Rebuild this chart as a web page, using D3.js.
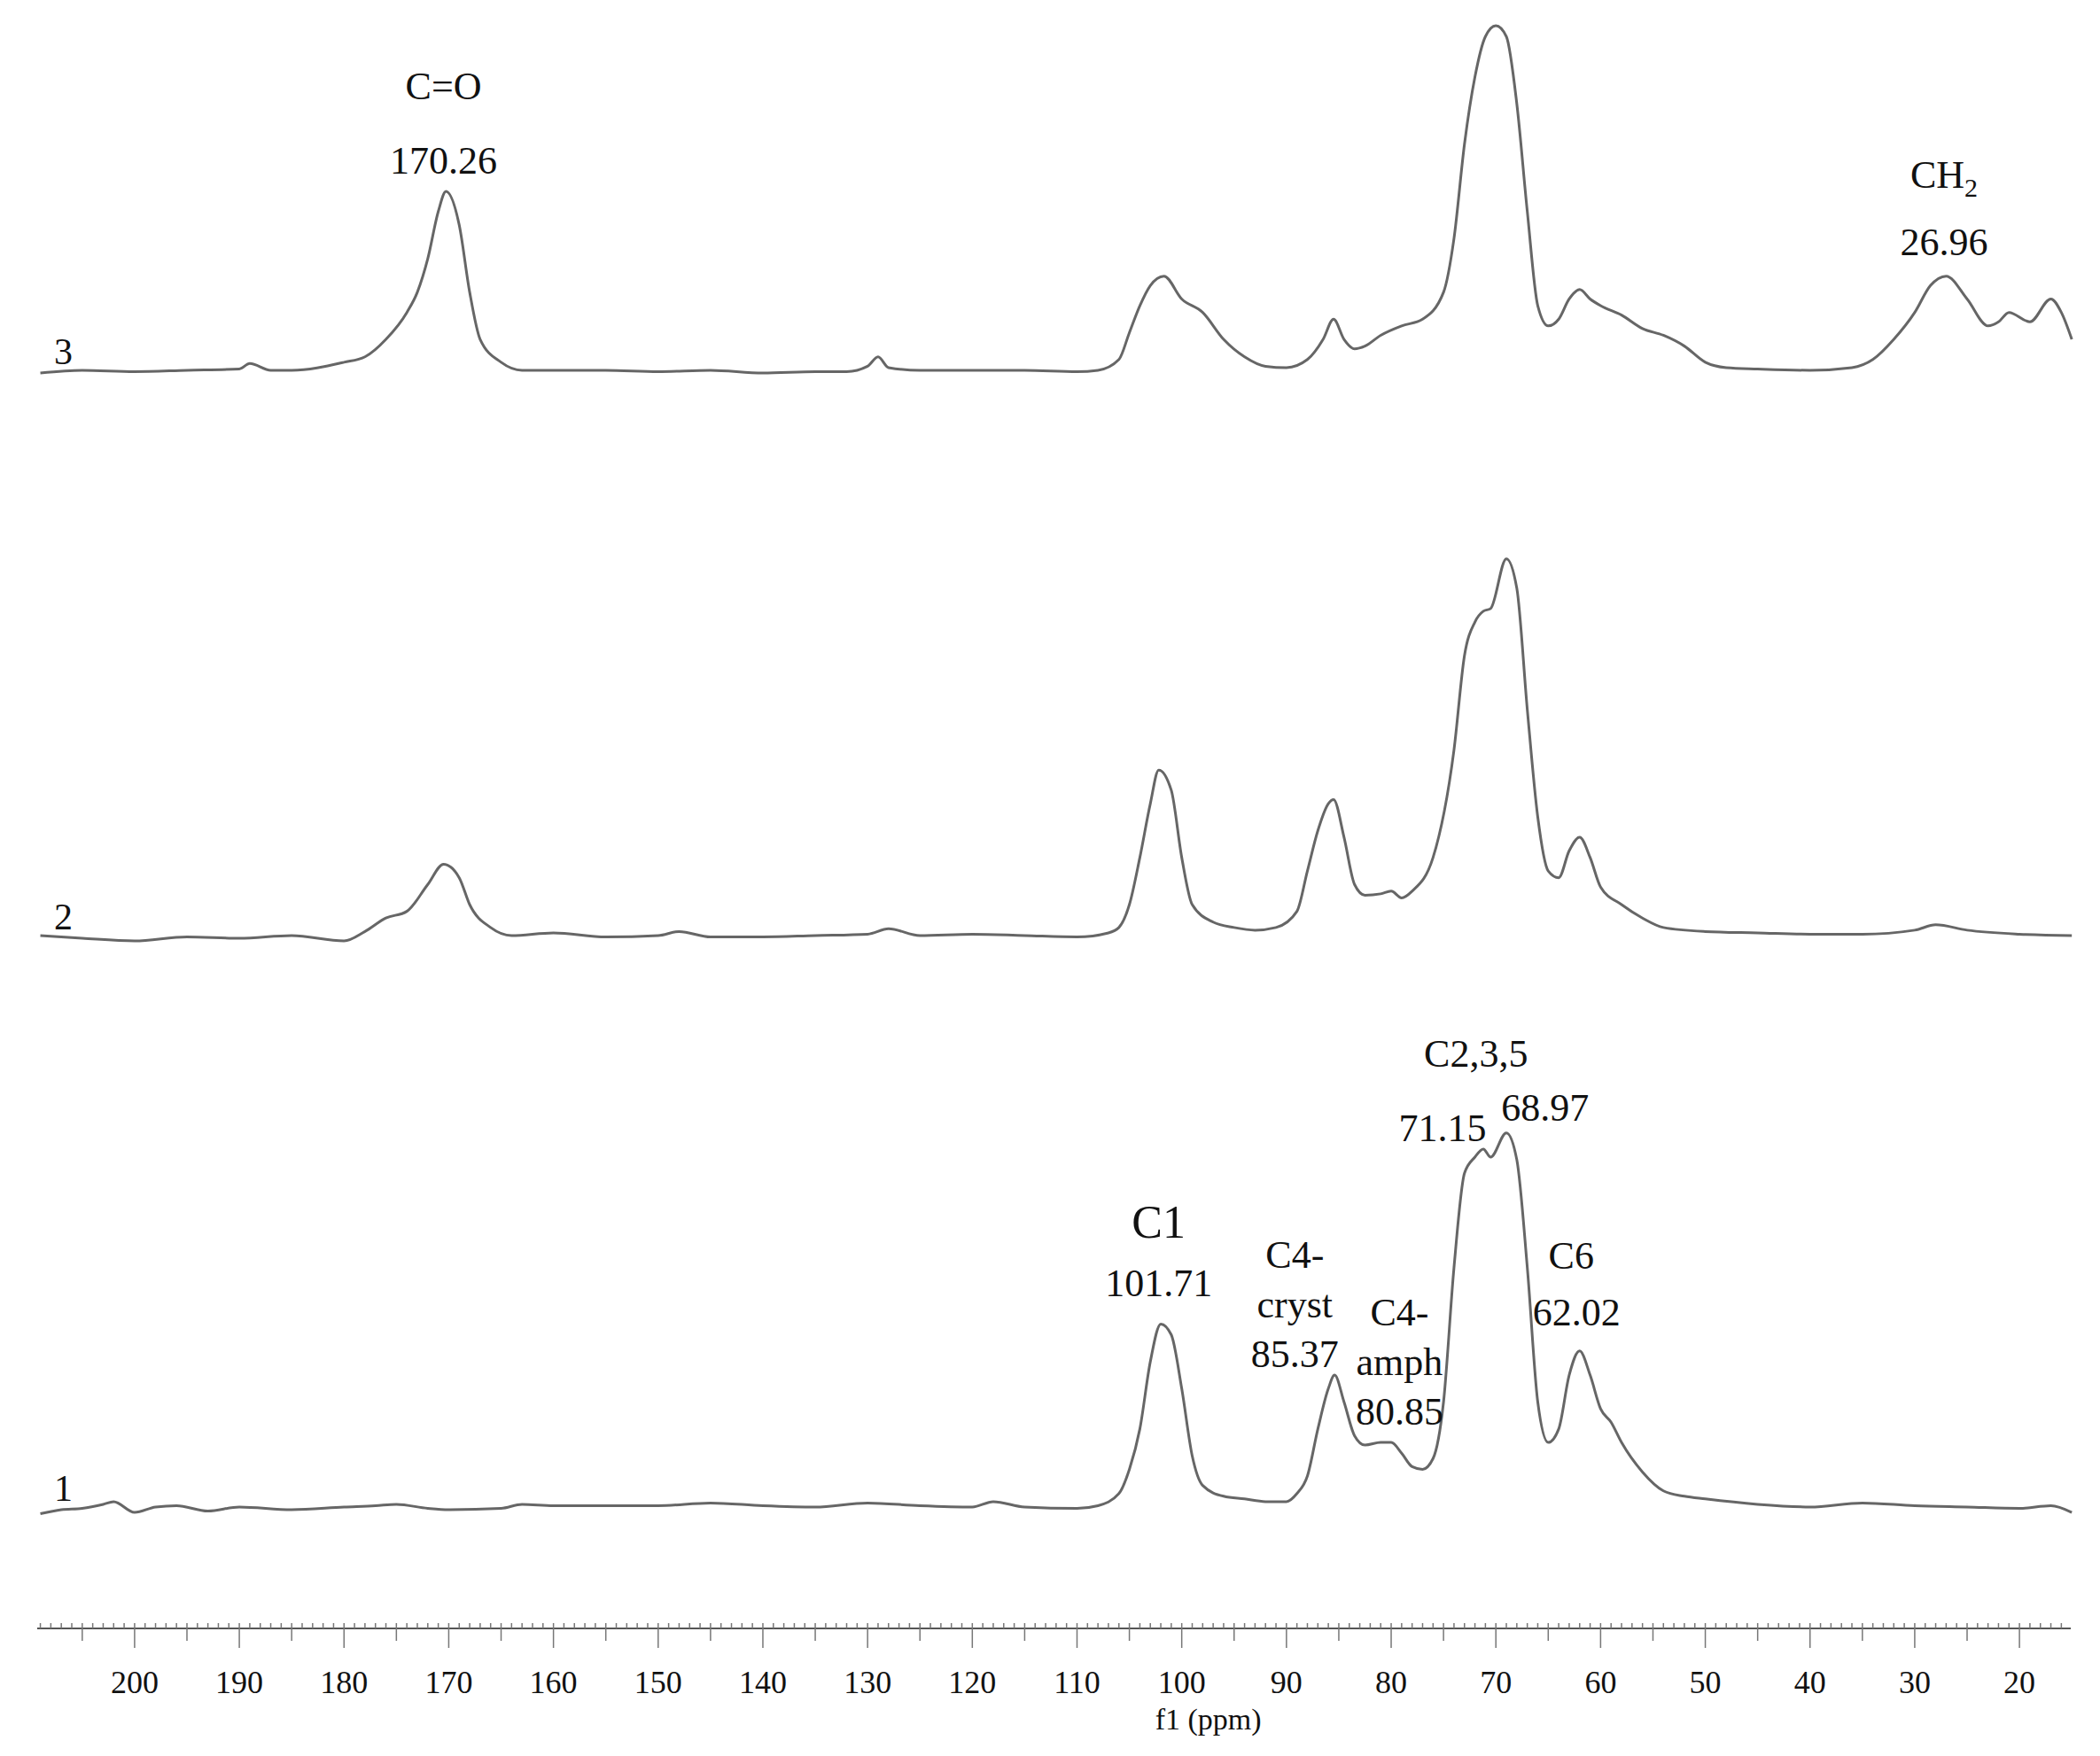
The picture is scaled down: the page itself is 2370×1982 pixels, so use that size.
<!DOCTYPE html>
<html><head><meta charset="utf-8">
<script src="https://cdn.jsdelivr.net/npm/d3@7"></script>
<style>body{margin:0;background:#fff}svg{display:block}text{font-family:"Liberation Serif","Times New Roman",serif;fill:#111}</style>
</head><body>
<script>
// spectra: [ppm, intensity above baseline]
var spec1 = [[209,-3],[207,0],[205,1],[203,4],[202,6],[200,-2],[198,2],[196,3],[193,-1],[190,2],[185,0],[180,2],[177,3],[175,4],[172,1],[170,0],[165,1],[163,4],[160,3],[155,3],[150,3],[145,5],[140,3],[135,2],[130,5],[125,3],[120,2],[118,6],[115,2],[110,1],[108,3],[106,12],[105,30],[104,60],[103,110],[102,138],[101,130],[100,90],[99,40],[98,18],[96,10],[94,8],[92,6],[90,6],[89,12],[88,25],[87,60],[86,90],[85.4,100],[84.5,80],[83.5,55],[82.5,48],[81,50],[80,50],[79,42],[78,32],[77,30],[76,38],[75,80],[74,180],[73,250],[72,262],[71.2,268],[70.5,262],[69,280],[68,260],[67,180],[66,80],[65,50],[64,60],[63,100],[62,118],[61,100],[60,75],[59,65],[58,50],[56,28],[54,14],[52,10],[50,8],[45,4],[40,2],[35,5],[30,3],[25,2],[20,1],[17,3],[15,-2]];
var spec2 = [[209,2],[205,0],[200,-2],[195,1],[190,0],[185,2],[180,-2],[178,5],[176,15],[174,20],[172,40],[170.5,55],[169,45],[168,25],[166,8],[164,2],[160,4],[155,1],[150,2],[148,5],[145,1],[140,1],[135,2],[130,3],[128,7],[125,2],[120,3],[115,2],[110,1],[107,4],[106,8],[105,25],[104,60],[103,100],[102.2,125],[101,110],[100,60],[99,25],[97,12],[95,8],[93,6],[91,8],[89,20],[88,50],[87,80],[86,100],[85.5,103],[84.5,75],[83.5,40],[82.5,32],[81,33],[80,35],[79,30],[78,35],[76,60],[74,140],[73,210],[72,235],[71.2,243],[70.5,245],[69,282],[68,260],[67,170],[66,90],[65,50],[64,45],[63,65],[62,75],[61,60],[60,38],[58,25],[56,15],[54,8],[50,5],[45,4],[40,3],[35,3],[30,6],[28,10],[25,6],[20,3],[15,2]];
var spec3 = [[209,0],[205,2],[200,1],[195,2],[190,3],[189,7],[187,2],[185,2],[180,8],[178,12],[176,25],[174,45],[173,60],[172,85],[171,120],[170.26,135],[169,110],[168,60],[167,25],[165,8],[163,2],[160,2],[155,2],[150,1],[145,2],[140,0],[135,1],[132,1],[130,5],[129,12],[128,4],[125,2],[120,2],[115,2],[110,1],[108,2],[106,10],[105,30],[104,50],[103,65],[101.7,72],[100,55],[98,45],[96,25],[94,12],[92,5],[90,4],[88,10],[86.5,25],[85.5,40],[84.5,25],[83.5,18],[82.5,20],[81,28],[79,35],[77,40],[75,60],[74,100],[73,170],[72,220],[71,250],[70,258],[69,250],[68,200],[67,120],[66,50],[65,35],[64,40],[63,55],[62,62],[61,55],[60,50],[58,43],[56,33],[54,28],[52,20],[50,8],[48,4],[45,3],[40,2],[36,4],[34,10],[32,25],[30,45],[28.5,65],[27,72],[25,55],[23,35],[22,38],[21,45],[19,38],[17,55],[16,45],[15,25]];
var spectra = [spec1, spec2, spec3];
var spectrumNames = ["1", "2", "3"];
var baselines = [1704, 1059, 421];
var tickValues = d3.range(20, 201, 10);
var peakLabels = [
  {ppm:170.5, y:64, lines:["C=O"]}, {ppm:170.5, y:119, lines:["170.26"]},
  {ppm:27.2, y:130, lines:["CH"], sub:"2"}, {ppm:27.2, y:180, lines:["26.96"]},
  {ppm:102.2, y:910, lines:["C1"], big:true}, {ppm:102.2, y:953, lines:["101.71"]},
  {ppm:89.2, y:932, lines:["C4-","cryst","85.37"]},
  {ppm:79.2, y:975, lines:["C4-","amph","80.85"]},
  {ppm:71.9, y:783, lines:["C2,3,5"]}, {ppm:75.1, y:838, lines:["71.15"]},
  {ppm:65.3, y:823, lines:["68.97"]}, {ppm:62.8, y:933, lines:["C6"]}, {ppm:62.3, y:975, lines:["62.02"]}
];

var W = 2370, H = 1982, k = 1.519;
var svg = d3.select("body").append("svg").attr("width", W).attr("height", H);
var x = d3.scaleLinear().domain([209.3, 15.1]).range([42, 2337]);
var y = d3.scaleLinear().domain([0, 100]).range([0, 100 * k]);

spectra.forEach(function(s, i) {
  var line = d3.line().x(function(d){return x(d[0]);}).y(function(d){return baselines[i] - y(d[1]);}).curve(d3.curveMonotoneX);
  svg.append("path").attr("d", line(s)).attr("fill", "none").attr("stroke", "#666").attr("stroke-width", 3);
  svg.append("text").attr("x", 47 * k).attr("y", baselines[i] - 10).attr("text-anchor", "middle")
    .attr("font-size", 42).text(spectrumNames[i]);
});

// axis
var axisY = 1838;
svg.append("line").attr("x1", 42).attr("x2", 2337).attr("y1", axisY).attr("y2", axisY).attr("stroke", "#555").attr("stroke-width", 2);
var g = svg.append("g");
g.selectAll(".mi").data(d3.range(16, 210, 1)).enter().append("line")
  .attr("x1", function(d){return x(d);}).attr("x2", function(d){return x(d);})
  .attr("y1", axisY - 6).attr("y2", function(d){return axisY + (d % 10 === 0 ? 22 : d % 5 === 0 ? 14 : 0);})
  .attr("stroke", "#777").attr("stroke-width", 1.5);
g.selectAll(".lb").data(tickValues).enter().append("text")
  .attr("x", function(d){return x(d);}).attr("y", 1911).attr("text-anchor", "middle")
  .attr("font-size", 36).text(function(d){return d;});
svg.append("text").attr("x", x(100) + 30).attr("y", 1952).attr("text-anchor", "middle").attr("font-size", 34).text("f1 (ppm)");

peakLabels.forEach(function(p) {
  var t = svg.append("text").attr("x", x(p.ppm)).attr("text-anchor", "middle").attr("font-size", p.big ? 52 : 44);
  p.lines.forEach(function(l, j) {
    t.append("tspan").attr("x", x(p.ppm)).attr("y", p.y * k + 15 + j * 56).text(l);
  });
  if (p.sub) t.append("tspan").attr("font-size", 30).attr("dy", 10).text(p.sub);
});
</script>
</body></html>
